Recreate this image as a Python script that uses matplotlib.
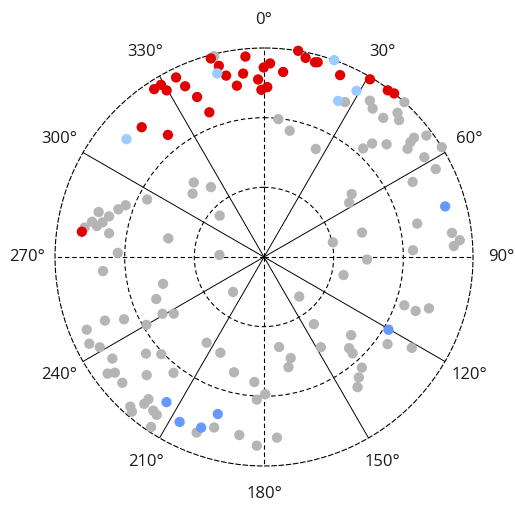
import numpy as np
import matplotlib
matplotlib.use("Agg")
import matplotlib.pyplot as plt

# angles in degrees (clockwise from north), radii on a 0-3 scale
theta_gray = [346.0, 5.9, 11.5, 25.6, 316.7, 311.6, 322.8, 313.0, 272.6, 78.0,
              279.3, 281.6, 280.5, 282.1, 284.7, 285.2, 288.1, 290.5, 278.7, 296.2,
              281.0, 271.6, 27.6, 34.1, 36.2, 40.6, 42.8, 44.6, 42.2, 42.4,
              43.6, 47.4, 53.0, 51.9, 51.5, 53.2, 58.3, 58.1, 62.9, 63.2,
              54.3, 57.5, 77.7, 82.7, 85.1, 86.7, 87.4, 76.0, 91.4, 102.8,
              109.0, 109.6, 107.3, 131.9, 137.0, 137.4, 125.2, 121.6, 138.5, 141.8,
              144.3, 221.5, 138.3, 143.4, 213.8, 204.5, 170.5, 165.2, 167.5, 147.8,
              194.6, 184.4, 179.5, 182.9, 196.3, 201.0, 187.9, 182.2, 175.9, 265.0,
              255.1, 248.7, 240.8, 237.9, 240.0, 246.0, 248.2, 247.7, 243.6, 241.2,
              236.2, 230.7, 226.6, 233.3, 232.2, 228.4, 224.8, 218.0, 221.8, 220.5,
              219.2, 219.1, 215.8, 214.2, 213.6]
r_gray = [2.97, 1.99, 1.85, 1.72, 1.47, 1.37, 1.26, 0.87, 0.64, 1.01,
          2.61, 2.52, 2.44, 2.37, 2.30, 2.46, 2.20, 2.12, 2.25, 1.87,
          1.40, 2.10, 2.51, 2.71, 2.64, 2.63, 2.82, 2.76, 3.00, 2.11,
          2.25, 2.39, 2.58, 2.67, 2.75, 2.91, 3.00, 2.71, 2.77, 2.39,
          1.55, 1.45, 2.25, 2.72, 2.82, 2.73, 2.14, 1.45, 1.48, 1.17,
          2.13, 2.31, 2.48, 1.68, 1.79, 1.88, 2.17, 2.49, 2.12, 2.20,
          2.30, 0.67, 0.76, 1.20, 1.48, 1.51, 1.31, 1.50, 1.62, 1.53,
          1.71, 1.80, 1.97, 2.05, 2.55, 2.70, 2.58, 2.71, 2.60, 2.32,
          1.50, 1.66, 1.67, 1.53, 1.95, 2.20, 2.46, 2.75, 2.80, 2.69,
          2.62, 2.19, 2.03, 2.80, 2.71, 2.72, 2.39, 2.11, 2.88, 2.92,
          2.72, 2.63, 2.72, 2.74, 2.93]

theta_red = [345.0, 346.7, 348.2, 354.7, 353.5, 351.0, 358.1, 359.9, 1.8, 359.1,
             1.1, 5.9, 9.4, 11.8, 14.7, 15.4, 337.3, 339.3, 326.8, 329.1,
             329.7, 333.9, 335.2, 316.7, 321.8, 277.9, 22.7, 30.8, 36.6, 38.5]
r_red = [2.95, 2.82, 2.66, 2.89, 2.65, 2.49, 2.55, 2.72, 2.78, 2.40,
         2.44, 2.67, 3.00, 2.92, 2.89, 2.90, 2.49, 2.22, 2.88, 2.88,
         2.77, 2.87, 2.70, 2.56, 2.23, 2.64, 2.83, 2.97, 2.98, 3.00]

theta_lightblue = [345.7, 19.6, 29.1, 25.4, 310.6]
r_lightblue = [2.72, 3.00, 2.73, 2.48, 2.60]

theta_blue = [74.4, 120.3, 196.4, 200.2, 213.9, 207.1]
r_blue = [2.70, 2.07, 2.35, 2.61, 2.51, 2.66]

angle_ticks = list(range(0, 360, 30))
angle_labels = [f"{a}°" for a in angle_ticks]

fig = plt.figure(figsize=(5.15, 5.08), dpi=100)
ax = fig.add_axes([0.1068, 0.0827, 0.8117, 0.8228], projection="polar")
ax.set_theta_zero_location("N")
ax.set_theta_direction(-1)
ax.set_rlim(0, 3)
ax.set_rticks([1, 2])
ax.set_yticklabels([])
ax.set_xticks(np.deg2rad(angle_ticks))
ax.set_xticklabels([])

dash = (0, (4, 2.5))
ax.grid(True, color="black", linewidth=0.8)
for i, ln in enumerate(ax.xaxis.get_gridlines()):
    ln.set_linestyle(dash if i % 3 == 0 else "-")
    ln.set_linewidth(0.8 if i % 3 == 0 else 0.7)
for ln in ax.yaxis.get_gridlines():
    ln.set_linestyle(dash)
ax.spines["polar"].set_linestyle(dash)
ax.spines["polar"].set_linewidth(0.8)

for a, lab in zip(angle_ticks, angle_labels):
    ax.text(np.deg2rad(a), 3.40, lab, ha="center", va="center",
            fontsize=12, family="Open Sans", color="#1a1a1a", clip_on=False)

size = 55
ax.scatter(np.deg2rad(theta_gray), r_gray, s=size, c="#b5b5b5",
           edgecolors="none", zorder=3, clip_on=False)
ax.scatter(np.deg2rad(theta_red), r_red, s=size, c="#e00000",
           edgecolors="none", zorder=4, clip_on=False)
ax.scatter(np.deg2rad(theta_lightblue), r_lightblue, s=size, c="#99ccff",
           edgecolors="none", zorder=4, clip_on=False)
ax.scatter(np.deg2rad(theta_blue), r_blue, s=size, c="#6699ff",
           edgecolors="none", zorder=4, clip_on=False)

fig.savefig("out.png", dpi=100)
